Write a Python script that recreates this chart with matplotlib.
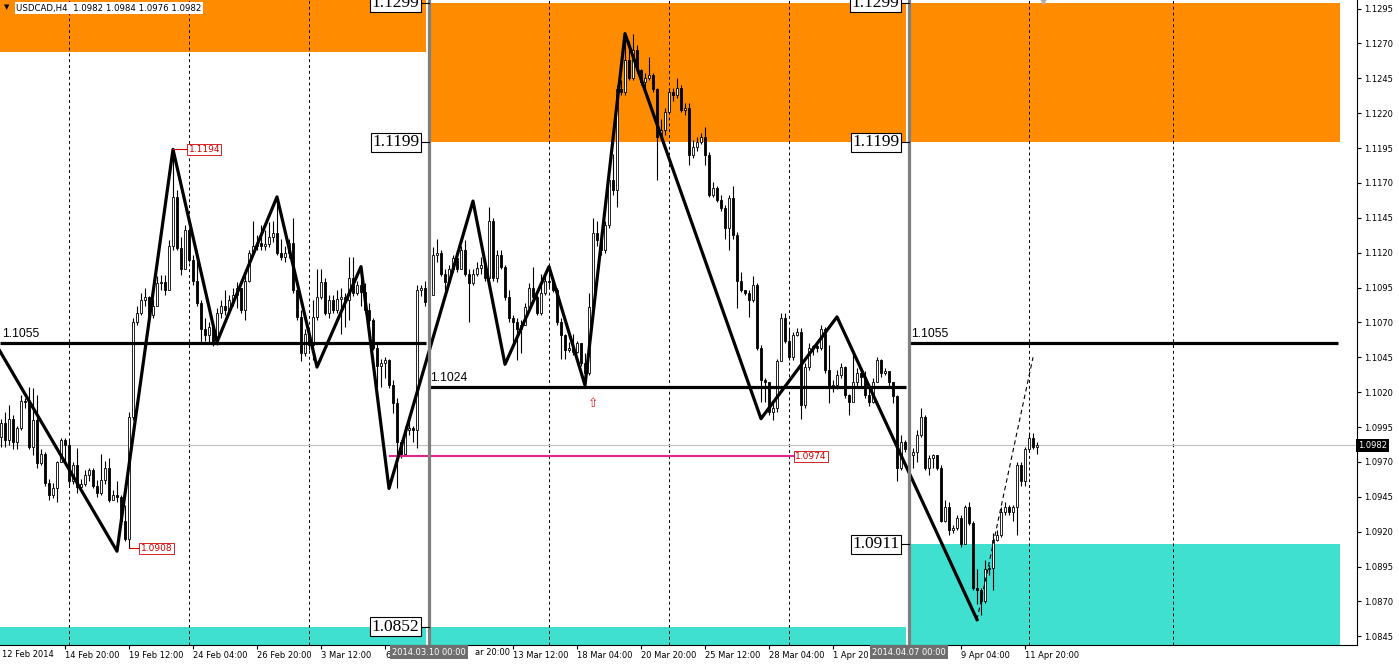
import matplotlib.pyplot as plt


# USDCAD H4 bars, bar 0 = 2014.02.12 00:00, prices in pips (price x 10000)
FIRST_OPEN = 11014
bar_close = [
    10988, 10998, 10986, 11001, 10984, 10994, 11014, 11013, 10981, 11000,
    10969, 10976, 10955, 10946, 10951, 10970, 10986, 10982, 10956, 10968,
    10952, 10954, 10961, 10964, 10953, 10948, 10957, 10966, 10943, 10946,
    10945, 10928, 10915, 11002, 11070, 11077, 11086, 11088, 11075, 11082,
    11098, 11099, 11093, 11125, 11160, 11123, 11108, 11136, 11115, 11100,
    11084, 11065, 11061, 11067, 11055, 11077, 11082, 11079, 11086, 11090,
    11095, 11079, 11100, 11120, 11125, 11127, 11125, 11126, 11131, 11134,
    11120, 11117, 11120, 11127, 11093, 11074, 11048, 11062, 11054, 11074,
    11088, 11099, 11077, 11086, 11079, 11087, 11088, 11086, 11102, 11091,
    11097, 11092, 11079, 11072, 11052, 11039, 11041, 11043, 11025, 11012,
    10984, 10976, 10993, 10994, 10993, 11093, 11095, 11085, 11090, 11118,
    11120, 11105, 11099, 11108, 11116, 11108, 11122, 11105, 11098, 11105,
    11109, 11111, 11102, 11143, 11102, 11118, 11110, 11088, 11073, 11070,
    11065, 11068, 11081, 11095, 11088, 11077, 11091, 11100, 11099, 11093,
    11070, 11061, 11050, 11052, 11049, 11055, 11041, 11034, 11081, 11134,
    11129, 11122, 11140, 11172, 11165, 11237, 11235, 11258, 11245, 11265,
    11251, 11242, 11245, 11247, 11237, 11203, 11208, 11221, 11235, 11233,
    11238, 11222, 11224, 11190, 11196, 11199, 11203, 11190, 11161, 11166,
    11158, 11152, 11138, 11159, 11133, 11100, 11093, 11091, 11086, 11097,
    11052, 11029, 11027, 11006, 11009, 11042, 11073, 11057, 11045, 11061,
    11063, 11011, 11038, 11052, 11053, 11052, 11065, 11036, 11024, 11025,
    11032, 11038, 11018, 11013, 11027, 11034, 11031, 11018, 11013, 11027,
    11043, 11034, 11035, 11027, 11017, 10966, 10984, 10979, 10975, 10977,
    10989, 11002, 10966, 10973, 10975, 10966, 10928, 10938, 10921, 10923,
    10930, 10911, 10938, 10926, 10880, 10878, 10870, 10893, 10894, 10914,
    10918, 10934, 10938, 10934, 10938, 10968, 10956, 10979, 10987, 10981,
    10982,
]
bar_high = [
    11016, 11001, 11006, 11011, 11004, 10996, 11018, 11016, 11024, 11023,
    11018, 10979, 10977, 10958, 10955, 10971, 10987, 10987, 10986, 10970,
    10980, 10958, 10964, 10966, 10966, 10957, 10976, 10971, 10973, 10950,
    10956, 10946, 10939, 11006, 11073, 11082, 11091, 11095, 11089, 11087,
    11103, 11104, 11104, 11129, 11194, 11165, 11131, 11140, 11133, 11118,
    11122, 11086, 11073, 11070, 11068, 11080, 11086, 11093, 11090, 11095,
    11099, 11093, 11104, 11122, 11143, 11133, 11140, 11136, 11142, 11143,
    11160, 11130, 11125, 11130, 11145, 11095, 11079, 11065, 11065, 11086,
    11108, 11108, 11102, 11090, 11090, 11093, 11095, 11091, 11117, 11117,
    11100, 11110, 11098, 11084, 11073, 11055, 11044, 11045, 11044, 11029,
    11016, 10986, 10996, 11001, 10996, 11097, 11097, 11100, 11097, 11124,
    11130, 11122, 11108, 11111, 11118, 11122, 11125, 11129, 11108, 11108,
    11113, 11117, 11115, 11153, 11145, 11122, 11122, 11111, 11093, 11075,
    11073, 11072, 11084, 11098, 11110, 11090, 11105, 11105, 11110, 11102,
    11095, 11073, 11062, 11056, 11062, 11057, 11055, 11048, 11091, 11145,
    11143, 11136, 11143, 11176, 11191, 11240, 11244, 11277, 11272, 11277,
    11269, 11252, 11249, 11260, 11249, 11238, 11216, 11224, 11238, 11238,
    11245, 11240, 11227, 11227, 11201, 11203, 11206, 11210, 11192, 11171,
    11168, 11161, 11154, 11161, 11168, 11135, 11106, 11093, 11093, 11103,
    11098, 11054, 11030, 11027, 11012, 11044, 11077, 11077, 11065, 11063,
    11066, 11066, 11041, 11055, 11054, 11056, 11068, 11067, 11054, 11029,
    11036, 11041, 11039, 11019, 11048, 11037, 11036, 11035, 11025, 11030,
    11045, 11044, 11037, 11035, 11027, 11018, 10989, 10986, 10986, 10980,
    10993, 11009, 11004, 10975, 10976, 10969, 10968, 10943, 10941, 10925,
    10932, 10932, 10939, 10941, 10928, 10893, 10880, 10900, 10896, 10919,
    10921, 10938, 10941, 10939, 10939, 10970, 10970, 10981, 10991, 10991,
    10984,
]
bar_low = [
    10986, 10981, 10981, 10982, 10979, 10979, 10993, 11009, 10979, 10975,
    10966, 10968, 10953, 10943, 10944, 10941, 10970, 10971, 10953, 10954,
    10948, 10950, 10953, 10956, 10951, 10945, 10946, 10954, 10941, 10943,
    10941, 10925, 10913, 10908, 11000, 11068, 11075, 11082, 11073, 11073,
    11086, 11093, 11090, 11093, 11122, 11122, 11104, 11110, 11113, 11097,
    11082, 11055, 11057, 11055, 11053, 11054, 11073, 11075, 11077, 11082,
    11080, 11077, 11072, 11099, 11118, 11122, 11122, 11122, 11124, 11128,
    11118, 11115, 11113, 11116, 11091, 11072, 11042, 11046, 11050, 11043,
    11072, 11087, 11075, 11073, 11077, 11077, 11062, 11067, 11072, 11089,
    11090, 11082, 11077, 11068, 11050, 11024, 11024, 11030, 11023, 11005,
    10951, 10973, 10975, 10989, 10984, 10980, 11089, 11082, 11082, 11104,
    11113, 11103, 11093, 11098, 11106, 11106, 11115, 11103, 11070, 11097,
    11103, 11105, 11100, 11102, 11100, 11099, 11108, 11086, 11070, 11055,
    11043, 11048, 11070, 11079, 11086, 11075, 11075, 11090, 11095, 11092,
    11068, 11044, 11044, 11049, 11047, 11048, 11039, 11024, 11032, 11080,
    11125, 11118, 11120, 11138, 11161, 11153, 11233, 11233, 11244, 11244,
    11249, 11240, 11238, 11244, 11235, 11172, 11201, 11204, 11220, 11229,
    11231, 11221, 11219, 11183, 11188, 11193, 11198, 11183, 11160, 11160,
    11156, 11150, 11130, 11122, 11130, 11080, 11092, 11090, 11074, 11085,
    11050, 11013, 11013, 11004, 11000, 11006, 11042, 11055, 11043, 11043,
    11060, 11001, 11009, 11036, 11047, 11049, 11050, 11034, 11012, 11020,
    11022, 11030, 11016, 11004, 11014, 11024, 11024, 11016, 11010, 11012,
    11027, 11031, 11032, 11024, 11012, 10956, 10964, 10977, 10971, 10966,
    10970, 10988, 10964, 10961, 10966, 10964, 10927, 10927, 10918, 10919,
    10921, 10909, 10911, 10925, 10878, 10868, 10860, 10869, 10889, 10878,
    10913, 10916, 10932, 10932, 10928, 10918, 10953, 10953, 10977, 10979,
    10976,
]

# zigzag swing points (bar index, pips) and the dashed projection
zz_bar = [0, 30, 44, 55, 70, 80, 91, 98, 119, 127, 138, 147, 157, 191, 210, 245]
zz_price = [11053, 10906, 11194, 11056, 11160, 11038, 11110, 10951, 11157,
            11040, 11110, 11025, 11277, 11001, 11074, 10857]
proj_bar = [245, 259]
proj_price = [10857, 11045]

# period blocks (monthly zones)
period_start = [-1, 108, 228]
period_end = [107.25, 227.25, 335.75]
period_names = ["", "2014.03.10 00:00", "2014.04.07 00:00"]
supply_top = [1.1330, 1.1299, 1.1299]
supply_bottom = [1.1264, 1.1199, 1.1199]
demand_top = [1.0852, 1.0852, 1.0911]
pivot_level = [1.1055, 1.1024, 1.1055]
pivot_end = [107.25, 227.25, 335.25]

pink_level = 1.0974
pink_span = (98.25, 199)
last_price = 1.0982

# time axis: labels partly hidden behind the period boxes are shown as visible
time_ticks = [17, 33, 49, 65, 81, 97, 113, 129, 145, 161, 177, 193, 209, 225, 241, 257]
time_labels = ["14 Feb 20:00", "19 Feb 12:00", "24 Feb 04:00", "26 Feb 20:00",
               "3 Mar 12:00", "6", "", "13 Mar 12:00",
               "18 Mar 04:00", "20 Mar 20:00", "25 Mar 12:00", "28 Mar 04:00",
               "1 Apr 20", "", "9 Apr 04:00", "11 Apr 20:00"]
week_grid = [18, 48, 78, 138, 168, 198, 258, 294]

ORANGE = "#ff8c00"
CYAN = "#40e0d0"
RED = "#d00000"

fig = plt.figure(figsize=(13.99, 6.64), dpi=100)
ax = fig.add_axes([0, 19 / 664, 1357 / 1399, 645 / 664])
ax.set_xlim(0.75, 340)
ax.set_ylim(1.08388, 1.13011)
ymin, ymax = ax.get_ylim()

# zones
for s, e, st, sb, dt in zip(period_start, period_end, supply_top, supply_bottom, demand_top):
    ax.fill_between([s, e], sb, st, color=ORANGE, lw=0, zorder=1)
    ax.fill_between([s, e], ymin - 0.01, dt, color=CYAN, lw=0, zorder=1)

for g in week_grid:
    ax.axvline(g, color="black", lw=0.7, ls=(0, (3, 3)), zorder=2)

ax.axhline(last_price, color="#c0c0c0", lw=0.8, zorder=2)

# candles
opens = [FIRST_OPEN] + bar_close[:-1]
xs = list(range(len(bar_close)))
o = [v / 10000 for v in opens]
c = [v / 10000 for v in bar_close]
h = [max(a, b, v / 10000) for a, b, v in zip(o, c, bar_high)]
lo = [min(a, b, v / 10000) for a, b, v in zip(o, c, bar_low)]
ax.vlines(xs, lo, h, color="black", lw=0.8, zorder=3)
face = ["white" if cc >= oo else "black" for oo, cc in zip(o, c)]
ax.bar(xs, [cc - oo for oo, cc in zip(o, c)], bottom=o, width=0.7,
       color=face, edgecolor="black", linewidth=0.6, zorder=4)

# pivot lines
for s, e, lvl in zip(period_start, pivot_end, pivot_level):
    ax.plot([max(s, 0.75), e], [lvl, lvl], color="black", lw=2.3, zorder=5,
            solid_capstyle="butt")
ax.text(1.3, 1.1055 + 0.00022, "1.1055", fontsize=8.7, family="Liberation Sans",
        va="bottom", ha="left", zorder=6)
ax.text(108.4, 1.1024 + 0.00022, "1.1024", fontsize=8.7, family="Liberation Sans",
        va="bottom", ha="left", zorder=6)
ax.text(228.6, 1.1055 + 0.00022, "1.1055", fontsize=8.7, family="Liberation Sans",
        va="bottom", ha="left", zorder=6)

ax.plot(pink_span, [pink_level, pink_level], color="#e0248c", lw=1.5, zorder=5)

# zigzag
ax.plot(zz_bar, [p / 10000 for p in zz_price], color="black", lw=2.3, zorder=6)
ax.plot(proj_bar, [p / 10000 for p in proj_price], color="black", lw=0.8,
        ls=(0, (4, 3)), zorder=6)

# period separators and boxed zone levels
for s, name, st, sb, dt in zip(period_start[1:], period_names[1:], supply_top[1:],
                               supply_bottom[1:], demand_top[1:]):
    ax.axvline(s, color="#7f7f7f", lw=2.3, zorder=7)
    for lvl in (st, sb, dt):
        ax.plot([s - 2.2, s], [lvl, lvl], color="black", lw=0.8, zorder=7)
        ax.text(s - 2.4, lvl, f"{lvl:.4f}", fontsize=12.5, family="Liberation Serif",
                ha="right", va="center", zorder=8, clip_on=False,
                bbox=dict(boxstyle="square,pad=0.08", fc="white", ec="black", lw=0.8))
    ax.text(s, ymin - 0.0002, name, fontsize=6, color="white",
            ha="center", va="top", zorder=10, clip_on=False,
            bbox=dict(boxstyle="square,pad=0.3", fc="#6e6e6e", ec="none"))
ax.text(119.6, ymin - 0.0002, "ar 20:00", fontsize=6, ha="left", va="top",
        clip_on=False)


# red price marks
def red_label(x, y, txt):
    ax.text(x, y, txt, fontsize=6.5, color=RED, ha="left", va="center", zorder=8,
            bbox=dict(boxstyle="square,pad=0.15", fc="white", ec=RED, lw=0.6))


ax.plot([44, 47.5], [1.1194, 1.1194], color=RED, lw=0.8, zorder=7)
red_label(47.9, 1.1194, "1.1194")
ax.plot([33, 35.5], [1.0908, 1.0908], color=RED, lw=0.8, zorder=7)
red_label(35.9, 1.0908, "1.0908")
red_label(199.6, pink_level, "1.0974")
ax.text(149, 1.1012, "\u21e7", color="#e02020", fontsize=9, ha="center",
        va="center", zorder=8)

ax.plot(261.5, ymax - 0.00008, marker="v", color="#b0b0b0", ms=5, zorder=8,
        clip_on=False)

# axes styling
for side in ("left", "top"):
    ax.spines[side].set_visible(False)
for side in ("right", "bottom"):
    ax.spines[side].set_linewidth(0.8)
ax.yaxis.tick_right()
yt = [1.0845 + 0.0025 * k for k in range(19)]
ax.set_yticks(yt)
ax.set_yticklabels([f"{v:.4f}" for v in yt])
ax.tick_params(axis="y", direction="out", length=3, width=0.8, pad=2, labelsize=6)
ax.set_xticks(time_ticks)
ax.set_xticklabels(time_labels)
for lbl in ax.get_xticklabels():
    lbl.set_ha("left")
ax.tick_params(axis="x", direction="out", length=3, width=0.8, pad=1.5, labelsize=6)
ax.text(1.2, ymin - 0.00036, "12 Feb 2014", fontsize=6, ha="left", va="top",
        clip_on=False)

ax.text(1358 / 1357, last_price, "1.0982", transform=ax.get_yaxis_transform(),
        fontsize=6, color="white", ha="left", va="center", zorder=10, clip_on=False,
        bbox=dict(boxstyle="square,pad=0.25", fc="black", ec="none"))

ax.text(4 / 1357, 1 - 7 / 645, "\u25bc", transform=ax.transAxes, fontsize=5,
        ha="left", va="center", zorder=10)
ax.text(16 / 1357, 1 - 8 / 645, "USDCAD,H4  1.0982 1.0984 1.0976 1.0982",
        transform=ax.transAxes, fontsize=6.2, ha="left", va="center", zorder=10,
        bbox=dict(boxstyle="square,pad=0.15", fc="white", ec="none"))

fig.savefig("out.png", dpi=100)
